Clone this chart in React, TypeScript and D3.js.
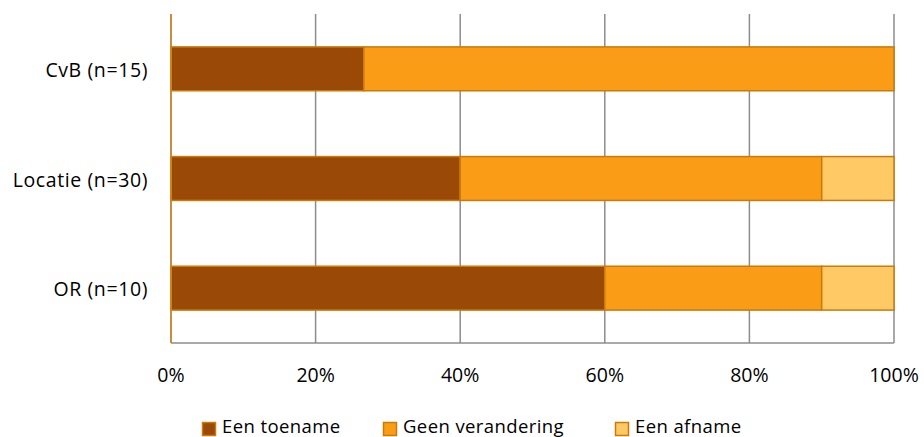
import React from "react";
import * as d3 from "d3";

const categories = ["CvB (n=15)", "Locatie (n=30)", "OR (n=10)"];
const seriesNames = ["Een toename", "Geen verandering", "Een afname"];
const toename = [26.67, 40, 60];
const geenVerandering = [73.33, 50, 30];
const afname = [0, 10, 10];
const xTicks = [0, 20, 40, 60, 80, 100];
const colors = ["#9A4A06", "#FA9C16", "#FFC966"];

const W = 924, H = 437;
const left = 171, right = 894, top = 14, bottom = 343;
const font = "'Open Sans', sans-serif";

export default function App() {
  const x = d3.scaleLinear().domain([0, 100]).range([left, right]);
  const y = d3.scaleBand<string>().domain(categories).range([top, bottom]).paddingInner(0.6).paddingOuter(0.3);
  const rows = categories.map((c, i) => ({ cat: c, toename: toename[i], geen: geenVerandering[i], afname: afname[i] }));
  const stack = d3.stack<any>().keys(["toename", "geen", "afname"])(rows);

  const legendX = [202, 383, 615];

  return (
    <svg width={W} height={H} style={{ position: "absolute", left: 0, top: 0, background: "#fff" }} fontFamily={font}>
      {xTicks.map((t) => (
        <line key={t} x1={x(t)} x2={x(t)} y1={top} y2={bottom} stroke="#8c8c8c" strokeWidth={1.5} />
      ))}
      <line x1={left} x2={right} y1={bottom} y2={bottom} stroke="#8c8c8c" strokeWidth={1.5} />
      {stack.map((s, si) =>
        s.map((d, i) =>
          d[1] - d[0] > 0 ? (
            <rect key={si + "-" + i} x={x(d[0])} y={y(categories[i])!} width={x(d[1]) - x(d[0])} height={y.bandwidth()}
              fill={colors[si]} stroke="#C97B0A" strokeWidth={1.5} />
          ) : null
        )
      )}
      <line x1={left} x2={left} y1={top} y2={bottom} stroke="#D4861A" strokeWidth={1.5} />
      {xTicks.map((t) => (
        <text key={t} x={x(t)} y={382} textAnchor="middle" fontSize={19.5} fill="#000">{t}%</text>
      ))}
      {categories.map((c) => (
        <text key={c} x={148} y={y(c)! + y.bandwidth() / 2} dy="0.42em" textAnchor="end" fontSize={19.5} letterSpacing={0.6} fill="#000">{c}</text>
      ))}
      {seriesNames.map((n, i) => (
        <g key={n}>
          <rect x={legendX[i] + 0.5} y={422.5} width={13} height={13} fill={colors[i]} stroke="#C97B0A" strokeWidth={1.5} />
          <text x={legendX[i] + 20} y={433} fontSize={18.5} letterSpacing={0.4} fill="#000">{n}</text>
        </g>
      ))}
    </svg>
  );
}
